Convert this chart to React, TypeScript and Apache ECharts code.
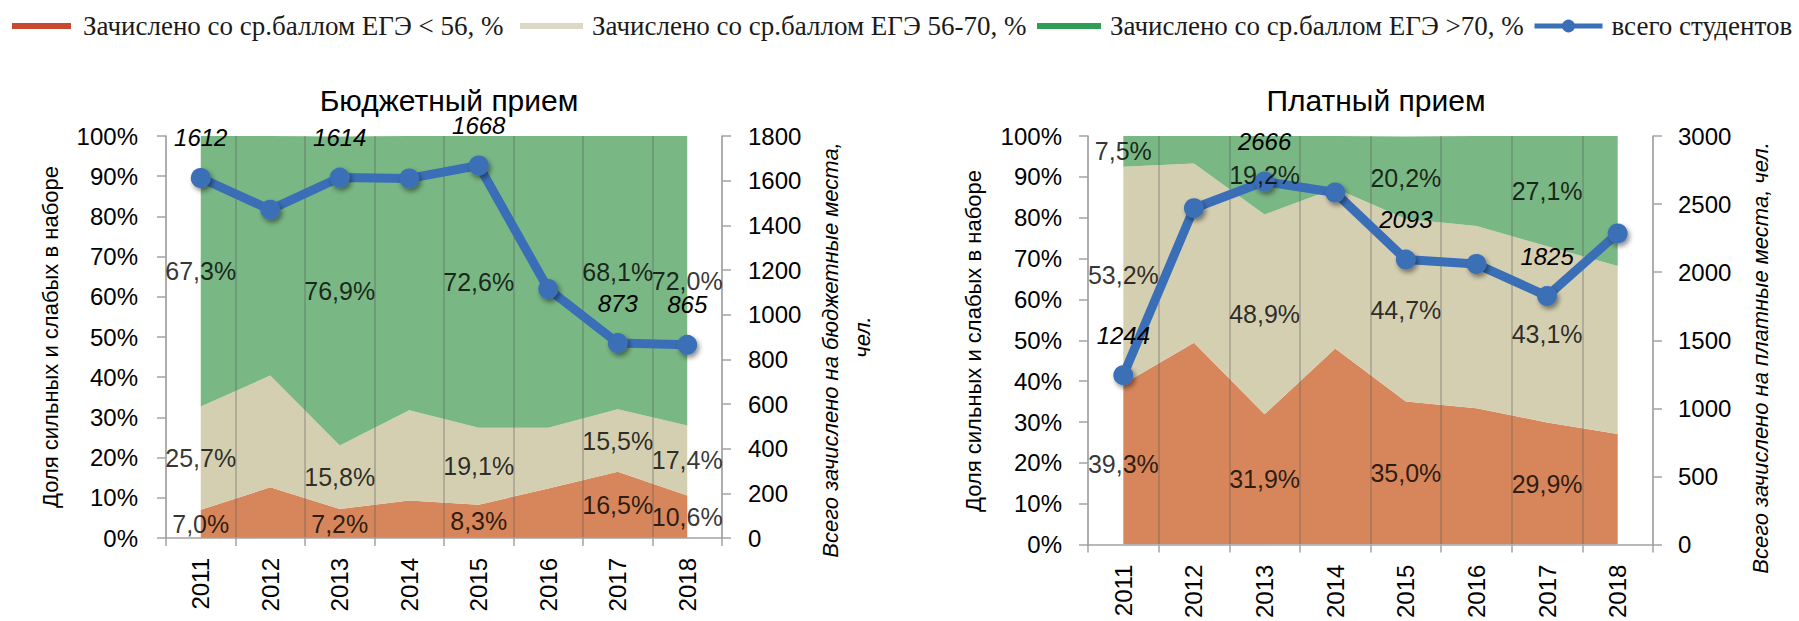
import React, { useEffect, useRef } from 'react';
import * as echarts from 'echarts';

// ---------- data ----------
const years = ['2011', '2012', '2013', '2014', '2015', '2016', '2017', '2018'];

// Бюджетный прием (shares, %)
const budgetLow = [7.0, 12.6, 7.2, 9.3, 8.3, 12.3, 16.5, 10.6];
const budgetMid = [25.7, 27.8, 15.8, 22.5, 19.1, 15.1, 15.5, 17.4];
const budgetHigh = [67.3, 59.6, 76.9, 68.2, 72.6, 72.6, 68.1, 72.0];
const budgetTotal = [1612, 1470, 1614, 1610, 1668, 1115, 873, 865];
const budgetLabelIdx = [0, 2, 4, 6, 7];
const budgetAxisMax = 1800;
const budgetAxisStep = 200;

// Платный прием (shares, %)
const paidLow = [39.3, 49.4, 31.9, 48.0, 35.0, 33.4, 29.9, 27.1];
const paidMid = [53.2, 43.9, 48.9, 39.2, 44.7, 44.6, 43.1, 41.1];
const paidHigh = [7.5, 6.7, 19.2, 12.8, 20.2, 22.0, 27.1, 31.8];
const paidTotal = [1244, 2470, 2666, 2585, 2093, 2060, 1825, 2285];
const paidLabelIdx = [0, 2, 4, 6];
const paidAxisMax = 3000;
const paidAxisStep = 500;

const pctMax = 100;
const pctStep = 10;

const N_LOW = 'Зачислено со ср.баллом ЕГЭ < 56, %';
const N_MID = 'Зачислено со ср.баллом ЕГЭ 56-70, %';
const N_HIGH = 'Зачислено со ср.баллом ЕГЭ >70, %';
const N_TOTAL = 'всего студентов';

// ---------- styles ----------
const SANS = '"Liberation Sans", Arial, Helvetica, sans-serif';
const SERIF = '"Liberation Serif", "Times New Roman", serif';
const ORANGE = '#d6865a';
const BEIGE = '#d5cfb2';
const GREEN = '#79b784';
const LEG_RED = '#c8492f';
const LEG_BEIGE = '#ddd8c5';
const LEG_GREEN = '#2f9e55';
const BLUE = '#3a6fb7';
const AXIS = '#a3a3a3';

const fmtPct = (v: number) => v.toFixed(1).replace('.', ',') + '%';

function buildSeries(g: number, low: number[], mid: number[], high: number[], total: number[], labelIdx: number[]) {
  const layers = [
    { name: N_LOW, data: low, color: ORANGE },
    { name: N_MID, data: mid, color: BEIGE },
    { name: N_HIGH, data: high, color: GREEN },
  ];
  const series: any[] = [];
  layers.forEach((l) => {
    series.push({
      type: 'line',
      name: l.name,
      xAxisIndex: g,
      yAxisIndex: 2 * g,
      stack: 'share' + g,
      data: l.data,
      symbol: 'none',
      lineStyle: { width: 0 },
      areaStyle: { color: l.color, opacity: 1 },
      itemStyle: { color: l.color },
      silent: true,
      z: 1,
    });
  });
  // centred percent labels
  layers.forEach((l, k) => {
    series.push({
      type: 'scatter',
      name: 'lbl' + g + '_' + k,
      xAxisIndex: g,
      yAxisIndex: 2 * g,
      symbolSize: 1,
      itemStyle: { color: 'transparent' },
      silent: true,
      z: 6,
      data: labelIdx.map((i) => {
        let base = 0;
        for (let j = 0; j < k; j++) base += layers[j].data[i];
        return [i, base + l.data[i] / 2, l.data[i]];
      }),
      label: {
        show: true,
        position: 'inside',
        formatter: (p: any) => fmtPct(p.value[2]),
        fontSize: 25,
        fontWeight: 'normal',
        fontFamily: SANS,
        color: '#000',
      },
    });
  });
  series.push({
    type: 'line',
    name: N_TOTAL,
    xAxisIndex: g,
    yAxisIndex: 2 * g + 1,
    data: total.map((v, i) => ({ value: v, label: { show: labelIdx.includes(i) } })),
    symbol: 'circle',
    symbolSize: 20,
    lineStyle: { width: 9, color: BLUE },
    itemStyle: {
      color: BLUE,
      shadowBlur: 5,
      shadowColor: 'rgba(0,0,0,0.45)',
      shadowOffsetX: 2,
      shadowOffsetY: 3,
    },
    label: {
      show: false,
      position: 'top',
      distance: 18,
      fontStyle: 'italic',
      fontWeight: 'normal',
      fontSize: 24,
      fontFamily: SANS,
      color: '#000',
    },
    z: 5,
  });
  return series;
}

function xAxisCfg(g: number) {
  return {
    type: 'category',
    gridIndex: g,
    data: years,
    boundaryGap: true,
    z: 3,
    axisLine: { lineStyle: { color: AXIS, width: 1.5 } },
    axisTick: { show: true, length: 8, lineStyle: { color: AXIS, width: 1.5 } },
    axisLabel: { rotate: 90, margin: 20, fontSize: 24, color: '#000', fontFamily: SANS },
    splitLine: { show: true, lineStyle: { color: 'rgba(90,90,90,0.4)', width: 1.5 } },
  };
}

function yAxisCfg(g: number, right: boolean, max: number, step: number, margin: number) {
  return {
    type: 'value',
    gridIndex: g,
    position: right ? 'right' : 'left',
    min: 0,
    max,
    interval: step,
    z: 3,
    axisLine: { show: true, lineStyle: { color: AXIS, width: 1.5 } },
    axisTick: { show: true, length: 9, lineStyle: { color: AXIS, width: 1.5 } },
    axisLabel: {
      formatter: right ? (v: number) => String(v) : (v: number) => v + '%',
      margin,
      fontSize: 24,
      color: '#000',
      fontFamily: SANS,
    },
    splitLine: { show: false },
  };
}

function txt(text: string, x: number, y: number, size: number, rotate: boolean, italic = false) {
  return {
    type: 'text',
    x,
    y,
    rotation: rotate ? Math.PI / 2 : 0,
    silent: true,
    style: {
      text,
      fontSize: size,
      fontFamily: SANS,
      fontStyle: italic ? 'italic' : 'normal',
      fill: '#000',
      align: 'center',
      verticalAlign: 'middle',
    },
  };
}

export default function App() {
  const ref = useRef<HTMLDivElement>(null);
  useEffect(() => {
    document.body.style.margin = '0';
    if (!ref.current) return;
    const chart = echarts.init(ref.current, undefined, { renderer: 'svg' });
    const legendBase = {
      orient: 'horizontal',
      top: 12,
      padding: 0,
      itemGap: 0,
      selectedMode: false,
      textStyle: { fontFamily: SERIF, fontSize: 27, color: '#1a1a1a', lineHeight: 28, padding: [0, 0, 0, 4] },
    };
    chart.setOption({
      animation: false,
      backgroundColor: '#fff',
      legend: [
        { ...legendBase, left: 12, itemWidth: 59, itemHeight: 6, textStyle: { ...legendBase.textStyle, padding: [0, 0, 0, 7] }, data: [{ name: N_LOW, icon: 'rect', itemStyle: { color: LEG_RED } }] },
        { ...legendBase, left: 520, itemWidth: 63, itemHeight: 6, data: [{ name: N_MID, icon: 'rect', itemStyle: { color: LEG_BEIGE } }] },
        { ...legendBase, left: 1037, itemWidth: 64, itemHeight: 6, data: [{ name: N_HIGH, icon: 'rect', itemStyle: { color: LEG_GREEN } }] },
        {
          ...legendBase,
          left: 1532,
          itemWidth: 68,
          itemHeight: 16,
          data: [{ name: N_TOTAL, itemStyle: { color: BLUE, shadowBlur: 0 }, lineStyle: { color: BLUE, width: 5 } }],
        },
      ],
      grid: [
        { left: 166, top: 136, width: 556, height: 402 },
        { left: 1088, top: 136, width: 565, height: 410 },
      ],
      xAxis: [xAxisCfg(0), xAxisCfg(1)],
      yAxis: [
        yAxisCfg(0, false, pctMax, pctStep, 28),
        yAxisCfg(0, true, budgetAxisMax, budgetAxisStep, 26),
        yAxisCfg(1, false, pctMax, pctStep, 26),
        yAxisCfg(1, true, paidAxisMax, paidAxisStep, 25),
      ],
      series: [
        ...buildSeries(0, budgetLow, budgetMid, budgetHigh, budgetTotal, budgetLabelIdx),
        ...buildSeries(1, paidLow, paidMid, paidHigh, paidTotal, paidLabelIdx),
      ],
      graphic: [
        txt('Бюджетный прием', 449, 100, 30, false),
        txt('Платный прием', 1376, 100, 30, false),
        txt('Доля сильных и слабых в наборе', 50, 337, 22, true),
        txt('Всего зачислено на бюджетные места,', 830, 350, 22, true, true),
        txt('чел.', 862, 337, 22, true, true),
        txt('Доля сильных и слабых в наборе', 973, 341, 22, true),
        txt('Всего зачислено на платные места, чел.', 1760, 358, 22, true, true),
      ],
    });
    return () => chart.dispose();
  }, []);
  return <div ref={ref} style={{ width: 1799, height: 621 }} />;
}
